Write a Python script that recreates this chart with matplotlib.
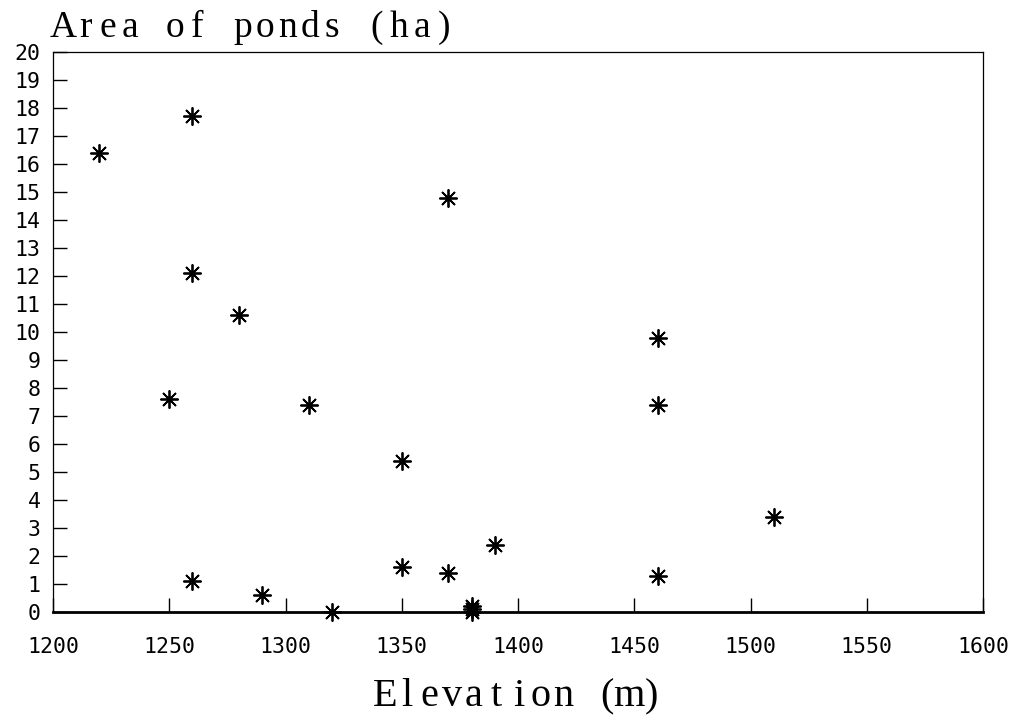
import numpy as np
import matplotlib.pyplot as plt

# elevation (m) and pond area (ha)
elevation = np.array([1220, 1260, 1260, 1280, 1250, 1310, 1370, 1350, 1460, 1460,
                      1510, 1390, 1350, 1370, 1460, 1260, 1290, 1320, 1380, 1380, 1380])
area = np.array([16.4, 17.7, 12.1, 10.6, 7.6, 7.4, 14.8, 5.4, 9.8, 7.4,
                 3.4, 2.4, 1.6, 1.4, 1.3, 1.1, 0.6, 0.0, 0.2, 0.1, 0.0])

x_ticks = np.arange(1200, 1601, 50)
y_ticks = np.arange(0, 21, 1)

W, H = 1022, 718
fig = plt.figure(figsize=(W / 100, H / 100), dpi=100)
ax = fig.add_axes([53 / W, 1 - 612 / H, 930 / W, 560 / H])

ax.plot(elevation, area, linestyle='none', marker=(8, 2, 0), markersize=13,
        markeredgewidth=1.3, color='black', clip_on=False, zorder=3)

ax.set_xlim(1200, 1600)
ax.set_ylim(0, 20)
ax.set_xticks(x_ticks)
ax.set_yticks(y_ticks)
ax.tick_params(direction='in', length=10, width=1, labelsize=15.5)
ax.tick_params(axis='x', pad=18)
ax.tick_params(axis='y', pad=9)
for lab in ax.get_xticklabels() + ax.get_yticklabels():
    lab.set_family('DejaVu Sans Mono')

ax.spines['bottom'].set_linewidth(2)
for s in ['top', 'right', 'left']:
    ax.spines[s].set_linewidth(0.9)


# serif text with a fixed character pitch, like the old plotter font
def mono_text(s, x0, baseline, pitch, size):
    for i, ch in enumerate(s):
        fig.text((x0 + pitch * (i + 0.5)) / W, 1 - baseline / H, ch,
                 family='Liberation Serif', fontsize=size, ha='center', va='baseline')


mono_text('Area of ponds (ha)', 52, 37, 22.4, 27)
mono_text('Elevation (m)', 374, 706, 22.2, 29)

plt.savefig('out.png', dpi=100)
